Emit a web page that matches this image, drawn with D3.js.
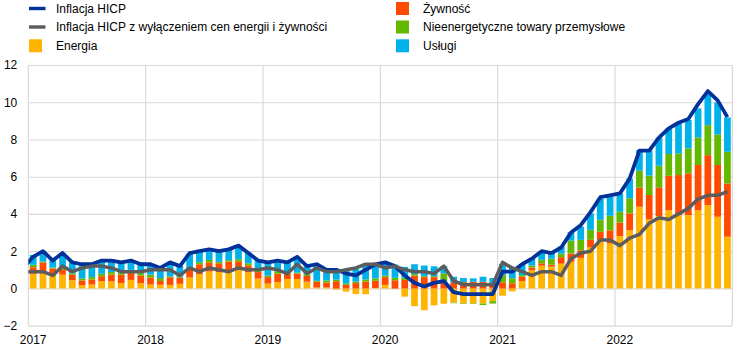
<!DOCTYPE html>
<html><head><meta charset="utf-8">
<script src="https://cdn.jsdelivr.net/npm/d3@7"></script>
<style>
body{margin:0;background:#fff}
svg{display:block}
text{font-family:"Liberation Sans",Arial,sans-serif;font-size:12px;fill:#000}
</style>
</head><body>
<svg id="chart" width="744" height="353"></svg>
<script>
// ---- data (euro area HICP, contributions in p.p.) ----
const years = [2017, 2018, 2019, 2020, 2021, 2022];
const months = [];
years.forEach(y => { for (let m = 1; m <= 12; m++) months.push(y + "-" + String(m).padStart(2, "0")); });

const energia = [
  0.79,0.80,0.72,0.74,0.44,0.18,0.21,0.39,0.38,0.29,0.46,0.28,
  0.21,0.20,0.19,0.25,0.59,0.77,0.91,0.88,0.91,1.03,0.87,0.53,
  0.26,0.35,0.51,0.51,0.36,0.05,0.05,-0.06,-0.17,-0.30,-0.31,0.02,
  0.19,-0.03,-0.44,-0.95,-1.17,-0.91,-0.82,-0.76,-0.80,-0.80,-0.81,-0.68,
  -0.39,-0.16,0.40,0.97,1.22,1.17,1.33,1.43,1.64,2.20,2.56,2.42,
  2.81,3.13,4.39,3.71,3.89,4.20,3.94,3.94,4.20,4.48,3.85,2.78];
const zywnosc = [
  0.35,0.60,0.35,0.29,0.29,0.25,0.27,0.27,0.37,0.45,0.43,0.41,
  0.37,0.20,0.41,0.33,0.49,0.53,0.49,0.47,0.53,0.43,0.37,0.35,
  0.35,0.44,0.29,0.29,0.31,0.31,0.27,0.39,0.19,0.29,0.37,0.39,
  0.42,0.44,0.46,0.69,0.61,0.61,0.38,0.32,0.34,0.36,0.36,0.25,
  0.33,0.28,0.24,0.15,0.13,0.11,0.35,0.44,0.41,0.41,0.48,0.70,
  0.72,0.90,1.02,1.31,1.54,1.85,2.15,2.24,2.43,2.68,2.78,2.86];
const nieenergetyczne = [
  0.13,0.05,0.05,0.08,0.08,0.11,0.13,0.13,0.13,0.11,0.11,0.13,
  0.16,0.16,0.05,0.05,0.08,0.11,0.13,0.08,0.08,0.11,0.11,0.11,
  0.08,0.13,0.05,0.05,0.08,0.05,0.11,0.08,0.08,0.08,0.11,0.13,
  0.08,0.13,0.13,0.08,0.05,0.05,0.43,-0.03,-0.03,-0.03,-0.08,-0.13,
  0.40,0.27,0.08,0.11,0.19,0.32,0.19,0.70,0.56,0.54,0.65,0.78,
  0.59,0.81,0.91,1.04,1.16,1.17,1.16,1.34,1.48,1.61,1.64,1.70];
const uslugi = [
  0.53,0.55,0.44,0.80,0.58,0.71,0.71,0.71,0.67,0.53,0.53,0.58,
  0.53,0.58,0.67,0.60,0.71,0.58,0.62,0.58,0.58,0.67,0.58,0.58,
  0.71,0.62,0.62,0.85,0.45,0.90,0.53,0.58,0.67,0.67,0.85,0.80,
  0.66,0.71,0.57,0.53,0.57,0.53,0.40,0.31,0.22,0.18,0.27,0.31,
  0.59,0.55,0.55,0.38,0.46,0.29,0.38,0.46,0.71,0.88,1.13,1.01,
  0.98,1.06,1.11,1.34,1.51,1.38,1.60,1.53,1.56,1.71,1.73,1.84];
const hicp = [
  1.7,2.0,1.5,1.9,1.4,1.3,1.3,1.5,1.5,1.4,1.5,1.3,
  1.3,1.1,1.4,1.2,1.9,2.0,2.1,2.0,2.1,2.3,1.9,1.5,
  1.4,1.5,1.4,1.7,1.2,1.3,1.0,1.0,0.8,0.7,1.0,1.3,
  1.4,1.2,0.7,0.3,0.1,0.3,0.4,-0.2,-0.3,-0.3,-0.3,-0.3,
  0.9,0.9,1.3,1.6,2.0,1.9,2.2,3.0,3.4,4.1,4.9,5.0,
  5.1,5.9,7.4,7.4,8.1,8.6,8.9,9.1,9.9,10.6,10.1,9.2];
const core = [
  0.9,0.9,0.7,1.2,0.9,1.1,1.2,1.2,1.1,0.9,0.9,0.9,
  1.0,1.0,1.0,0.7,1.1,0.9,1.1,1.0,0.9,1.1,1.0,1.0,
  1.1,1.0,0.8,1.3,0.8,1.1,0.9,0.9,1.0,1.1,1.3,1.3,
  1.1,1.2,1.0,0.9,0.9,0.8,1.2,0.4,0.2,0.2,0.2,0.2,
  1.4,1.1,0.9,0.7,0.9,0.9,0.7,1.6,1.9,2.0,2.6,2.6,
  2.3,2.7,2.9,3.5,3.8,3.7,4.0,4.3,4.8,5.0,5.0,5.2];
// December 2016 values (line enters the chart from the left edge)
const hicpPrev = 1.1, corePrev = 0.9;
const yTicks = [-2, 0, 2, 4, 6, 8, 10, 12];

const seriesNames = ["Energia", "Żywność", "Nieenergetyczne towary przemysłowe", "Usługi"];
const seriesColors = ["#FFB400", "#FF4B00", "#65B800", "#00B1EA"];
const seriesValues = [energia, zywnosc, nieenergetyczne, uslugi];

// ---- layout ----
const svg = d3.select("#chart");
const L = 28.3, R = 732.3, T = 65, B = 325.7;

const x = d3.scaleBand().domain(months).range([L, R]).paddingInner(0.31).paddingOuter(0.155);
const step = x.step();
const cx = m => x(m) + x.bandwidth() / 2;
const y = d3.scaleLinear().domain([-2, 12]).range([B, T]);

const clip = svg.append("defs").append("clipPath").attr("id", "plot")
  .append("rect").attr("x", L).attr("y", 0).attr("width", R - L).attr("height", 353);

// gridlines
const grid = svg.append("g");
grid.append("g").attr("transform", `translate(${L},0)`)
  .call(d3.axisLeft(y).tickValues(yTicks).tickSize(-(R - L)).tickFormat(""))
  .call(g => g.select(".domain").remove())
  .call(g => g.selectAll("line").attr("stroke", "#d9d9d9").attr("stroke-width", 1.2));
const yearEdges = years.map(yr => x(yr + "-01") - (step - x.bandwidth()) / 2).concat([R]);
grid.selectAll("line.v").data(yearEdges).join("line").attr("class", "v")
  .attr("x1", d => d).attr("x2", d => d).attr("y1", T).attr("y2", B)
  .attr("stroke", "#d9d9d9").attr("stroke-width", 1.2);

// stacked bars
const table = months.map((m, i) => {
  const o = { month: m };
  seriesNames.forEach((n, k) => o[n] = seriesValues[k][i]);
  return o;
});
const stack = d3.stack().keys(seriesNames).offset(d3.stackOffsetDiverging)(table);
svg.append("g").selectAll("g").data(stack).join("g")
  .attr("fill", (d, k) => seriesColors[k])
  .selectAll("rect").data(d => d).join("rect")
  .attr("x", d => x(d.data.month))
  .attr("width", x.bandwidth())
  .attr("y", d => y(Math.max(d[0], d[1])))
  .attr("height", d => Math.abs(y(d[0]) - y(d[1])));

// lines
const line = d3.line().x(d => d[0]).y(d => y(d[1]));
const pts = (arr, prev) => [[cx(months[0]) - step, prev]].concat(arr.map((v, i) => [cx(months[i]), v]));
const lines = svg.append("g").attr("clip-path", "url(#plot)");
lines.append("path").datum(pts(hicp, hicpPrev)).attr("d", line)
  .attr("fill", "none").attr("stroke", "#003299").attr("stroke-width", 3.8).attr("stroke-linejoin", "round");
lines.append("path").datum(pts(core, corePrev)).attr("d", line)
  .attr("fill", "none").attr("stroke", "#5C5C5C").attr("stroke-width", 3.5).attr("stroke-linejoin", "round");

// axes labels
svg.append("g").attr("transform", `translate(${L},0)`)
  .call(d3.axisLeft(y).tickValues(yTicks).tickSize(0).tickPadding(11).tickFormat(d3.format("d")))
  .call(g => g.select(".domain").remove())
  .call(g => g.selectAll("text").style("font-size", "12px").style("font-family", '"Liberation Sans",Arial,sans-serif').attr("fill", "#000"));
svg.append("g").attr("transform", `translate(0,${B})`)
  .call(d3.axisBottom(x).tickValues(years.map(yr => yr + "-01")).tickSize(0).tickPadding(10).tickFormat(m => m.slice(0, 4)))
  .call(g => g.select(".domain").remove())
  .call(g => g.selectAll("text").style("font-size", "12px").style("font-family", '"Liberation Sans",Arial,sans-serif').attr("fill", "#000"));

// legend
const legendItems = [
  { label: "Inflacja HICP", color: "#003299", type: "line", col: 0, row: 0 },
  { label: "Inflacja HICP z wyłączeniem cen energii i żywności", color: "#5C5C5C", type: "line", col: 0, row: 1 },
  { label: "Energia", color: seriesColors[0], type: "box", col: 0, row: 2 },
  { label: "Żywność", color: seriesColors[1], type: "box", col: 1, row: 0 },
  { label: "Nieenergetyczne towary przemysłowe", color: seriesColors[2], type: "box", col: 1, row: 1 },
  { label: "Usługi", color: seriesColors[3], type: "box", col: 1, row: 2 }
];
const colX = [29, 396], rowY = [8.5, 27, 45.8];
const lg = svg.append("g").selectAll("g").data(legendItems).join("g")
  .attr("transform", d => `translate(${colX[d.col]},${rowY[d.row]})`);
lg.filter(d => d.type === "line").append("rect")
  .attr("x", 0).attr("y", -1.7).attr("width", 16.5).attr("height", 3.4).attr("fill", d => d.color);
lg.filter(d => d.type === "box").append("rect")
  .attr("x", 0).attr("y", -6.5).attr("width", 13).attr("height", 13).attr("fill", d => d.color);
lg.append("text").attr("x", 27).attr("dy", "0.35em").text(d => d.label);
</script>
</body></html>
